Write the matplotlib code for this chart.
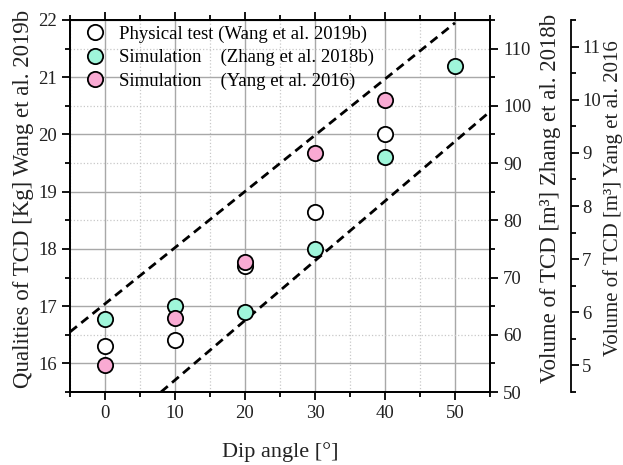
import numpy as np
import matplotlib
matplotlib.use('Agg')
import matplotlib.pyplot as plt
from matplotlib.ticker import MultipleLocator

plt.rcParams['font.family'] = ['Liberation Serif', 'DejaVu Serif']

# Data
dip_wang = [0, 10, 20, 30, 40]
mass_wang = [16.3, 16.4, 17.7, 18.65, 20.0]          # left axis [Kg]
dip_zhang = [0, 10, 20, 30, 40, 50]
vol_zhang = [62.8, 65.0, 64.0, 75.0, 91.0, 107.0]     # first right axis [m3]
dip_yang = [0, 10, 20, 30, 40]
vol_yang = [5.0, 5.9, 6.95, 9.0, 10.0]                # second right axis [m3]

# dashed bounding lines (left axis units)
upper_x = [-5, 50]
upper_y = [16.55, 21.95]
lower_x = [8, 55]
lower_y = [15.5, 20.4]

teal = '#9ff6da'
pink = '#f9aad3'
ink = '#222222'

fig = plt.figure(figsize=(6.23, 4.65), dpi=100)
ax = fig.add_axes([70/623, 1 - 392/465, 420/623, 372/465])
ax2 = ax.twinx()
ax3 = ax.twinx()

# grid of main axis
ax.set_xlim(-5, 55)
ax.set_ylim(15.5, 22)
ax.xaxis.set_major_locator(MultipleLocator(10))
ax.xaxis.set_minor_locator(MultipleLocator(5))
ax.yaxis.set_major_locator(MultipleLocator(1))
ax.yaxis.set_minor_locator(MultipleLocator(0.5))
ax.grid(which='major', color='#a8a8a8', lw=1.0, ls='-')
ax.grid(which='minor', color='#c8c8c8', lw=0.9, ls=':')
ax.set_axisbelow(True)

ax.plot(upper_x, upper_y, color='black', lw=2.0, dashes=(3.2, 2.0), zorder=2)
ax.plot(lower_x, lower_y, color='black', lw=2.0, dashes=(3.2, 2.0), zorder=2)

mk = dict(ls='none', marker='o', ms=11, mew=1.3, mec='black')
h1, = ax.plot(dip_wang, mass_wang, mfc='white', zorder=3, **mk)

ax2.set_ylim(50, 115)
ax2.yaxis.set_major_locator(MultipleLocator(10))
ax2.yaxis.set_minor_locator(MultipleLocator(5))
h2, = ax2.plot(dip_zhang, vol_zhang, mfc=teal, **mk)

ax3.set_ylim(4.5, 11.5)
ax3.yaxis.set_major_locator(MultipleLocator(1))
ax3.yaxis.set_minor_locator(MultipleLocator(0.5))
h3, = ax3.plot(dip_yang, vol_yang, mfc=pink, **mk)
ax3.spines['right'].set_position(('axes', (571 - 70) / 420))
for s in ['left', 'top', 'bottom']:
    ax3.spines[s].set_visible(False)

for a in [ax, ax2, ax3]:
    for s in a.spines.values():
        s.set_linewidth(1.3)
    a.tick_params(which='major', direction='out', length=6, width=1.3,
                  labelsize=13.5, labelcolor=ink)
    a.tick_params(which='minor', direction='out', length=3.5, width=1.3)
ax.tick_params(which='both', top=True)
ax3.tick_params(which='major', pad=2)

ax.set_xlabel('Dip angle [°]', fontsize=16, color=ink)
ax.set_ylabel('Qualities of TCD [Kg] Wang et al. 2019b', fontsize=16.5, color=ink)
ax2.set_ylabel('Volume of TCD [m³] Zhang et al. 2018b', fontsize=16.5, color=ink)
ax3.set_ylabel('Volume of TCD [m³] Yang et al. 2016', fontsize=15, color=ink)
ax.xaxis.set_label_coords(0.5, -0.135)
ax.yaxis.set_label_coords(-0.085, 0.52)
ax2.yaxis.set_label_coords(1.119, 0.52)
ax3.yaxis.set_label_coords(1.27, 0.52)

ax3.legend([h1, h2, h3],
           ['Physical test (Wang et al. 2019b)',
            'Simulation    (Zhang et al. 2018b)',
            'Simulation    (Yang et al. 2016)'],
           loc='upper left', bbox_to_anchor=(85.5 / 623, 1 - 25.5 / 465),
           bbox_transform=fig.transFigure, frameon=False, fontsize=13.5,
           handlelength=1.0, handletextpad=0.78, labelspacing=0.33,
           borderpad=0, borderaxespad=0)

fig.savefig('out.png', dpi=100)
